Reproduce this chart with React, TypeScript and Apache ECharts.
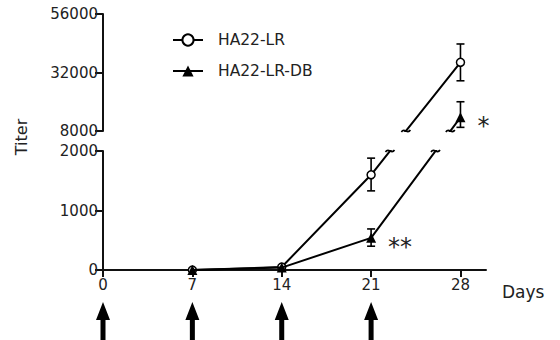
import React, { useEffect, useRef } from "react";
import * as echarts from "echarts";

// ---- data ----
const days = [7, 14, 21, 28];
const lrMean = [0, 50, 1600, 36200];
const lrLow = [0, 50, 1330, 28600];
const lrHigh = [0, 50, 1880, 43700];
const dbMean = [0, 40, 540, 13600];
const dbLow = [0, 40, 400, 9500];
const dbHigh = [0, 40, 690, 20000];
const dbMarks = ["", "", "**", "*"];
const injectionDays = [0, 7, 14, 21];
const xTicks = [0, 7, 14, 21, 28];
const lowerTicks = [0, 1000, 2000];
const upperTicks = [8000, 32000, 56000];

// ---- layout ----
const FONT = "DejaVu Sans";
const GRID_LEFT = 103;
const GRID_W = 383;
const LOW_TOP = 151;
const LOW_H = 119;
const UP_TOP = 14;
const UP_H = 117;
const LOW_MAX = 2000;
const UP_MIN = 8000;
const UP_MAX = 56000;
const X_MAX = 30;

// map a real value to a pixel of the broken axis, then back into each segment's units
const pix = (v: number) =>
  v <= LOW_MAX
    ? LOW_TOP + LOW_H - (v / LOW_MAX) * LOW_H
    : UP_TOP + UP_H - ((v - UP_MIN) / (UP_MAX - UP_MIN)) * UP_H;
const toLower = (v: number) => ((LOW_TOP + LOW_H - pix(v)) / LOW_H) * LOW_MAX;
const toUpper = (v: number) =>
  UP_MIN + ((UP_TOP + UP_H - pix(v)) / UP_H) * (UP_MAX - UP_MIN);
const inLower = (v: number) => v <= LOW_MAX;
const inUpper = (v: number) => v >= UP_MIN;

const axisColor = "#111";
const labelStyle = {
  fontSize: 15,
  color: "#222",
  fontFamily: FONT,
  formatter: (v: number) => String(v),
};

function lineData(
  mean: number[],
  conv: (v: number) => number,
  inside: (v: number) => boolean,
  marks?: string[]
) {
  return days.map((d, i) => {
    const item: any = { value: [d, conv(mean[i])] };
    if (!inside(mean[i])) item.symbol = "none";
    if (marks && marks[i] && inside(mean[i])) {
      item.label = {
        show: true,
        formatter: marks[i],
        position: "right",
        distance: 12,
        offset: [0, 9],
        fontSize: 24,
        color: "#222",
        fontFamily: FONT,
      };
    }
    return item;
  });
}

function errData(
  mean: number[],
  low: number[],
  high: number[],
  inside: (v: number) => boolean
) {
  return days
    .map((d, i) => [d, low[i], high[i], mean[i]])
    .filter((r) => inside(r[3]) && r[2] > r[1]);
}

// segments that cross the axis break, expressed in one segment's units
function crossData(conv: (v: number) => number) {
  const out: number[][] = [];
  [lrMean, dbMean].forEach((mean) => {
    for (let i = 0; i + 1 < days.length; i++) {
      if (inLower(mean[i]) && inUpper(mean[i + 1])) {
        out.push([days[i], conv(mean[i]), days[i + 1], conv(mean[i + 1])]);
      }
    }
  });
  return out;
}

const breakRender = (edgeValue: number) => (params: any, api: any) => {
  const p0 = api.coord([api.value(0), api.value(1)]);
  const p1 = api.coord([api.value(2), api.value(3)]);
  const yEdge = api.coord([0, edgeValue])[1];
  const t = (yEdge - p0[1]) / (p1[1] - p0[1]);
  const cx = p0[0] + t * (p1[0] - p0[0]);
  const cy = yEdge;
  return {
    type: "bezierCurve",
    shape: {
      x1: cx - 4.5,
      y1: cy + 1,
      cpx1: cx - 1.5,
      cpy1: cy - 4,
      cpx2: cx + 1.5,
      cpy2: cy + 4,
      x2: cx + 4.5,
      y2: cy - 1,
    },
    style: { stroke: "#000", lineWidth: 1.6, fill: null },
  };
};

const errRender = (params: any, api: any) => {
  const x = api.value(0);
  const p1 = api.coord([x, api.value(1)]);
  const p2 = api.coord([x, api.value(2)]);
  const cw = 4;
  const st = { stroke: "#000", lineWidth: 1.6 };
  return {
    type: "group",
    children: [
      { type: "line", shape: { x1: p1[0], y1: p1[1], x2: p2[0], y2: p2[1] }, style: st },
      { type: "line", shape: { x1: p1[0] - cw, y1: p1[1], x2: p1[0] + cw, y2: p1[1] }, style: st },
      { type: "line", shape: { x1: p2[0] - cw, y1: p2[1], x2: p2[0] + cw, y2: p2[1] }, style: st },
    ],
  };
};

const arrowRender = (params: any, api: any) => {
  const p = api.coord([api.value(0), 0]);
  const x = p[0];
  const y = p[1];
  return {
    type: "polygon",
    shape: {
      points: [
        [x, y + 32],
        [x + 7, y + 50],
        [x + 2.5, y + 50],
        [x + 2.5, y + 80],
        [x - 2.5, y + 80],
        [x - 2.5, y + 50],
        [x - 7, y + 50],
      ],
    },
    style: { fill: "#000" },
  };
};

const lrStyle = {
  symbol: "circle",
  symbolSize: 8,
  itemStyle: { color: "#fff", borderColor: "#000", borderWidth: 1.5 },
  lineStyle: { color: "#000", width: 2 },
};
const dbStyle = {
  symbol: "triangle",
  symbolSize: 10,
  itemStyle: { color: "#000" },
  lineStyle: { color: "#000", width: 2 },
};

export default function App() {
  const ref = useRef<HTMLDivElement>(null);
  useEffect(() => {
    const chart = echarts.init(ref.current!, null, { renderer: "svg" });
    const option: any = {
      animation: false,
      backgroundColor: "#fff",
      grid: [
        { left: GRID_LEFT, top: LOW_TOP, width: GRID_W, height: LOW_H },
        { left: GRID_LEFT, top: UP_TOP, width: GRID_W, height: UP_H },
      ],
      legend: {
        orient: "vertical",
        left: 167,
        top: 27,
        itemWidth: 30,
        itemHeight: 14,
        itemGap: 15,
        data: ["HA22-LR", "HA22-LR-DB"],
        textStyle: {
          fontSize: 15.5,
          color: "#222",
          fontFamily: FONT,
          padding: [0, 0, 0, 10],
        },
      },
      xAxis: [
        {
          gridIndex: 0,
          type: "value",
          min: 0,
          max: X_MAX,
          interval: 7,
          axisLine: { onZero: false, lineStyle: { color: axisColor, width: 2 } },
          axisTick: { length: 7, lineStyle: { color: axisColor, width: 2 }, customValues: xTicks },
          axisLabel: { ...labelStyle, margin: 7, customValues: xTicks },
          splitLine: { show: false },
        },
        { gridIndex: 1, type: "value", min: 0, max: X_MAX, show: false },
      ],
      yAxis: [
        {
          gridIndex: 0,
          type: "value",
          min: 0,
          max: LOW_MAX,
          interval: 1000,
          axisLine: { show: true, onZero: false, lineStyle: { color: axisColor, width: 2 } },
          axisTick: { show: true, length: 8, lineStyle: { color: axisColor, width: 2 }, customValues: lowerTicks },
          axisLabel: { ...labelStyle, margin: 5, customValues: lowerTicks },
          splitLine: { show: false },
        },
        {
          gridIndex: 1,
          type: "value",
          min: UP_MIN,
          max: UP_MAX,
          axisLine: { show: true, onZero: false, lineStyle: { color: axisColor, width: 2 } },
          axisTick: { show: true, length: 8, lineStyle: { color: axisColor, width: 2 }, customValues: upperTicks },
          axisLabel: { ...labelStyle, margin: 5, customValues: upperTicks },
          splitLine: { show: false },
        },
      ],
      graphic: [
        {
          type: "text",
          x: 21.5,
          y: 137,
          rotation: Math.PI / 2,
          style: {
            text: "Titer",
            fontSize: 16,
            fontFamily: FONT,
            fill: "#222",
            align: "center",
            verticalAlign: "middle",
          },
        },
        {
          type: "text",
          x: 502,
          y: 292,
          style: {
            text: "Days",
            fontSize: 17,
            fontFamily: FONT,
            fill: "#222",
            align: "left",
            verticalAlign: "middle",
          },
        },
      ],
      series: [
        {
          type: "custom",
          name: "arrows",
          xAxisIndex: 0,
          yAxisIndex: 0,
          silent: true,
          clip: false,
          data: injectionDays.map((d) => [d, 0]),
          renderItem: arrowRender,
        },
        {
          type: "custom",
          name: "break-low",
          xAxisIndex: 0,
          yAxisIndex: 0,
          silent: true,
          clip: false,
          data: crossData(toLower),
          encode: { x: [0, 2], y: [1, 3] },
          renderItem: breakRender(LOW_MAX),
          z: 7,
        },
        {
          type: "custom",
          name: "break-up",
          xAxisIndex: 1,
          yAxisIndex: 1,
          silent: true,
          clip: false,
          data: crossData(toUpper),
          encode: { x: [0, 2], y: [1, 3] },
          renderItem: breakRender(UP_MIN),
          z: 7,
        },
        {
          type: "custom",
          name: "err-lr-low",
          xAxisIndex: 0,
          yAxisIndex: 0,
          silent: true,
          data: errData(lrMean, lrLow, lrHigh, inLower),
          encode: { x: 0, y: [1, 2] },
          renderItem: errRender,
          z: 4,
        },
        {
          type: "custom",
          name: "err-lr-up",
          xAxisIndex: 1,
          yAxisIndex: 1,
          silent: true,
          data: errData(lrMean, lrLow, lrHigh, inUpper),
          encode: { x: 0, y: [1, 2] },
          renderItem: errRender,
          z: 4,
        },
        {
          type: "custom",
          name: "err-db-low",
          xAxisIndex: 0,
          yAxisIndex: 0,
          silent: true,
          data: errData(dbMean, dbLow, dbHigh, inLower),
          encode: { x: 0, y: [1, 2] },
          renderItem: errRender,
          z: 4,
        },
        {
          type: "custom",
          name: "err-db-up",
          xAxisIndex: 1,
          yAxisIndex: 1,
          silent: true,
          data: errData(dbMean, dbLow, dbHigh, inUpper),
          encode: { x: 0, y: [1, 2] },
          renderItem: errRender,
          z: 4,
        },
        {
          type: "line",
          name: "HA22-LR",
          xAxisIndex: 0,
          yAxisIndex: 0,
          clip: true,
          silent: true,
          ...lrStyle,
          data: lineData(lrMean, toLower, inLower),
          z: 5,
        },
        {
          type: "line",
          name: "HA22-LR",
          xAxisIndex: 1,
          yAxisIndex: 1,
          clip: true,
          silent: true,
          ...lrStyle,
          data: lineData(lrMean, toUpper, inUpper),
          z: 5,
        },
        {
          type: "line",
          name: "HA22-LR-DB",
          xAxisIndex: 0,
          yAxisIndex: 0,
          clip: true,
          silent: true,
          ...dbStyle,
          data: lineData(dbMean, toLower, inLower, dbMarks),
          z: 6,
        },
        {
          type: "line",
          name: "HA22-LR-DB",
          xAxisIndex: 1,
          yAxisIndex: 1,
          clip: true,
          silent: true,
          ...dbStyle,
          data: lineData(dbMean, toUpper, inUpper, dbMarks),
          z: 6,
        },
      ],
    };
    chart.setOption(option);
    return () => chart.dispose();
  }, []);
  return (
    <div
      ref={ref}
      style={{ position: "absolute", left: 0, top: 0, width: 560, height: 340 }}
    />
  );
}
